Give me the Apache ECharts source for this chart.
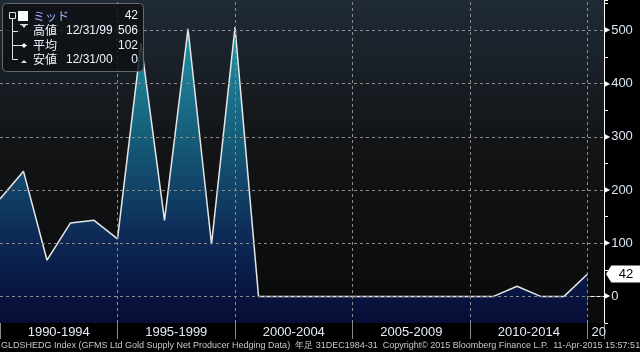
<!DOCTYPE html>
<html>
<head>
<meta charset="utf-8">
<script src="https://cdn.jsdelivr.net/npm/echarts@6/dist/echarts.min.js"></script>
<style>
html,body{margin:0;padding:0;background:#000;}
#chart{width:640px;height:352px;}
</style>
</head>
<body>
<div id="chart"></div>
<script>
// Year-end observations (12/31 of each year)
const years = [1989,1990,1991,1992,1993,1994,1995,1996,1997,1998,1999,2000,2001,2002,2003,2004,2005,2006,2007,2008,2009,2010,2011,2012,2013,2014];
const values = [183,235,68,138,143,108,476,143,503,98,506,0,0,0,0,0,0,0,0,0,0,0,19,0,0,42];
const yGridTicks = [0,100,200,300,400,500];
const xGridTicks = [1995,2000,2005,2010,2015];
const periodLabels = ['1990-1994','1995-1999','2000-2004','2005-2009','2010-2014','20'];
const legendRows = [
  ['ミッド','','42'],
  ['高値','12/31/99','506'],
  ['平均','','102'],
  ['安値','12/31/00','0']
];
const footer = 'GLDSHEDG Index (GFMS Ltd Gold Supply Net Producer Hedging Data)  年足 31DEC1984-31  Copyright© 2015 Bloomberg Finance L.P.  11-Apr-2015 15:57:51';

const X_MIN = 1990, X_MAX = 2015.7;
const data = years.map((y,i) => [y + 1, values[i]]);   // 12/31 ≈ start of next year
const lastVal = values[values.length-1];

const chart = echarts.init(document.getElementById('chart'));
const font = 'Liberation Sans';
const gridLine = {type:[3,3], color:'#8c8c8c', width:1};

const legendGraphics = [];
legendGraphics.push({type:'rect', shape:{x:2.5,y:3.5,width:141,height:68,r:4},
  style:{fill:'rgba(14,16,20,0.82)', stroke:'#6a6a6a', lineWidth:1}, z:100});
// tree
legendGraphics.push({type:'rect', shape:{x:9.5,y:12.5,width:6,height:6}, style:{fill:'none',stroke:'#e0e0e0',lineWidth:1}, z:101});
legendGraphics.push({type:'rect', shape:{x:18,y:11,width:10,height:10}, style:{fill:'#ffffff'}, z:101});
legendGraphics.push({type:'polyline', shape:{points:[[12.5,19],[12.5,59.5],[18,59.5]]}, style:{stroke:'#e0e0e0',lineWidth:1,fill:'none'}, z:101});
legendGraphics.push({type:'line', shape:{x1:12.5,y1:31.5,x2:18,y2:31.5}, style:{stroke:'#e0e0e0',lineWidth:1}, z:101});
legendGraphics.push({type:'line', shape:{x1:12.5,y1:45.5,x2:27,y2:45.5}, style:{stroke:'#e0e0e0',lineWidth:1}, z:101});
// icons
legendGraphics.push({type:'line', shape:{x1:20,y1:24.5,x2:28,y2:24.5}, style:{stroke:'#e0e0e0',lineWidth:1}, z:101});
legendGraphics.push({type:'polygon', shape:{points:[[21.5,25],[26.5,25],[24,28]]}, style:{fill:'#e0e0e0'}, z:101});
legendGraphics.push({type:'polygon', shape:{points:[[24,43],[26.5,45.5],[24,48],[21.5,45.5]]}, style:{fill:'#ffffff'}, z:101});
legendGraphics.push({type:'polygon', shape:{points:[[21,63],[27,63],[24,60]]}, style:{fill:'#e0e0e0'}, z:101});
legendRows.forEach((r,i) => {
  const y = 16 + i*14.6;
  legendGraphics.push({type:'text', x:33, y:y, style:{text:r[0], fill: i===0 ? '#9fb3ff' : '#eef2fa', font:'12px "Noto Sans CJK JP"', textVerticalAlign:'middle'}, z:101});
  if (r[1]) legendGraphics.push({type:'text', x:66, y:y, style:{text:r[1], fill:'#eef2fa', font:'12px '+font, textVerticalAlign:'middle'}, z:101});
  legendGraphics.push({type:'text', x:138, y:y, style:{text:r[2], fill:'#eef2fa', font:'12px '+font, textAlign:'right', textVerticalAlign:'middle'}, z:101});
});
legendGraphics.push({type:'text', x:1, y:346, style:{text:footer, fill:'#c8c8c8', font:'9px '+font, textVerticalAlign:'middle'}, z:101});

const option = {
  backgroundColor:'#000000',
  animation:false,
  grid:{left:0, right:36, top:0, bottom:29, show:true, borderWidth:0,
    backgroundColor:{type:'linear',x:0,y:0,x2:0,y2:1,colorStops:[
      {offset:0,color:'#1f2a36'},{offset:0.45,color:'#121416'},{offset:1,color:'#0a0a0b'}]}},
  xAxis:[
    {type:'value', min:X_MIN, max:X_MAX, interval:1,
     axisLine:{show:true, lineStyle:{color:'#ffffff', width:1}},
     axisTick:{show:true, length:4, lineStyle:{color:'#ffffff'}},
     axisLabel:{show:false}, splitLine:{show:false}},
    {type:'value', min:X_MIN, max:X_MAX, interval:5, position:'bottom',
     axisLine:{show:false},
     axisTick:{show:true, length:16, lineStyle:{color:'#8a8a8a'}},
     axisLabel:{show:true, align:'left', margin:3,
       formatter:(v) => {
         const idx = Math.round((v - X_MIN)/5);
         if (Math.abs(v - Math.round(v)) > 0.01) return '';
         const t = periodLabels[idx];
         if (t === undefined) return '';
         return idx === periodLabels.length-1 ? '{b|'+t+'}' : '{a|'+t+'}';
       },
       rich:{a:{width:117.5, align:'center', color:'#e6ecf6', fontSize:13, fontFamily:font},
             b:{color:'#e6ecf6', fontSize:13, fontFamily:font, padding:[0,0,0,4]}}},
     splitLine:{show:false}}
  ],
  yAxis:{type:'value', position:'right', min:-50, max:557, interval:50,
    axisLine:{show:true, lineStyle:{color:'#ffffff', width:1}},
    axisTick:{show:true, length:4, lineStyle:{color:'#ffffff'}},
    splitLine:{show:false},
    axisLabel:{margin:0, formatter:(v) => (v>=0 && v%100===0) ? '{t|▶}{v|'+v+'}' : '',
      rich:{t:{color:'#ffffff', fontSize:8, fontFamily:'DejaVu Sans', padding:[0,1,0,0]},
            v:{color:'#dbe6f5', fontSize:13, fontFamily:font}}}},
  graphic:legendGraphics,
  series:[{
    type:'line', data:data, symbol:'none', smooth:false,
    lineStyle:{color:'#e6e6e6', width:1.5},
    areaStyle:{origin:'start', opacity:1,
      color:{type:'linear',x:0,y:0,x2:0,y2:1,colorStops:[
        {offset:0,color:'#2195a8'},{offset:0.35,color:'#16607c'},{offset:0.72,color:'#0d2855'},{offset:1,color:'#070c35'}]}},
    markLine:{silent:true, symbol:'none', label:{show:false}, lineStyle:gridLine,
      data: yGridTicks.map(v => ({yAxis:v})).concat(xGridTicks.map(v => ({xAxis:v})))},
    markPoint:{silent:true,
      data:[{coord:[X_MAX, lastVal], value:lastVal,
        symbol:'path://M0,5 L5,0 L34,0 L34,10 L5,10 Z', symbolSize:[36,17], symbolKeepAspect:false,
        symbolOffset:[20,0], itemStyle:{color:'#ffffff'},
        label:{show:true, position:'inside', offset:[2,0], color:'#000', fontSize:13, fontFamily:font, formatter:String(lastVal)}}]}
  }]
};
chart.setOption(option);
</script>
</body>
</html>
